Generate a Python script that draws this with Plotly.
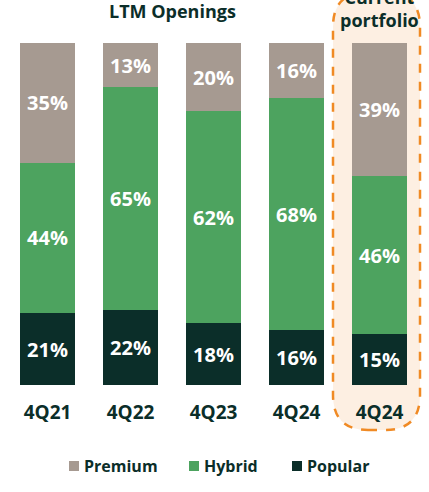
import plotly.graph_objects as go

categories = ["4Q21", "4Q22", "4Q23", "4Q24", "4Q24"]
popular = [21, 22, 18, 16, 15]
hybrid = [44, 65, 62, 68, 46]
premium = [35, 13, 20, 16, 39]

DARK = "#0B2E29"
COLORS = {"Premium": "#A69A91", "Hybrid": "#4DA35F", "Popular": "#0B2E29"}
FONT = "Open Sans"

W, H = 429, 492
L, R, T, B = 6, 8, 43, 107
PW, PH = W - L - R, H - T - B


def px(x, y):
    # page pixels -> paper coords
    return (x - L) / PW, (H - B - y) / PH


xs = list(range(len(categories)))
fig = go.Figure()

for name, vals in [("Popular", popular), ("Hybrid", hybrid), ("Premium", premium)]:
    fig.add_trace(go.Bar(
        x=xs,
        y=vals,
        name=name,
        marker=dict(color=COLORS[name], line=dict(width=0)),
        text=[f"{v}%" for v in vals],
        textposition="inside",
        insidetextanchor="middle",
        textfont=dict(family=FONT, size=20, color="white", weight="bold"),
        hoverinfo="skip",
        showlegend=False,
    ))

# highlight box around the current portfolio bar
x0, y1 = px(333, -8)
x1, y0 = px(420, 430)
rx, ry = 35 / PW, 35 / PH
path = (f"M {x0+rx},{y0} L {x1-rx},{y0} Q {x1},{y0} {x1},{y0+ry} "
        f"L {x1},{y1-ry} Q {x1},{y1} {x1-rx},{y1} L {x0+rx},{y1} "
        f"Q {x0},{y1} {x0},{y1-ry} L {x0},{y0+ry} Q {x0},{y0} {x0+rx},{y0} Z")
fig.add_shape(type="path", path=path, xref="paper", yref="paper",
              fillcolor="#FDEFE2", line=dict(color="#F08A24", width=2.5, dash="dash"),
              layer="below")

fig.add_annotation(x=1.5, xref="x", y=1.0, yref="paper", yanchor="bottom", yshift=18,
                   text="<b>LTM Openings</b>", showarrow=False,
                   font=dict(family=FONT, size=18, color=DARK))
fig.add_annotation(x=4, xref="x", y=1.0, yref="paper", yanchor="bottom", yshift=9,
                   text="<b>Current<br>portfolio</b>", showarrow=False,
                   font=dict(family=FONT, size=18, color=DARK))

# legend drawn by hand so the swatch sits close to its label
legend_x = {"Premium": 69, "Hybrid": 189, "Popular": 292}
for name, lx in legend_x.items():
    sx0, sy1 = px(lx, 461)
    sx1, sy0 = px(lx + 10, 471)
    fig.add_shape(type="rect", xref="paper", yref="paper", x0=sx0, x1=sx1, y0=sy0, y1=sy1,
                  fillcolor=COLORS[name], line=dict(width=0))
    tx, ty = px(lx + 13, 466)
    fig.add_annotation(x=tx, y=ty, xref="paper", yref="paper", xanchor="left", yanchor="middle",
                       text=f"<b>{name}</b>", showarrow=False,
                       font=dict(family=FONT, size=16, color=DARK))

fig.update_layout(
    width=W, height=H,
    barmode="stack",
    bargap=0.337,
    margin=dict(l=L, r=R, t=T, b=B),
    plot_bgcolor="rgba(0,0,0,0)",
    paper_bgcolor="white",
    font=dict(family=FONT, color=DARK),
    xaxis=dict(tickvals=xs, ticktext=[f"<b>{c}</b>" for c in categories],
               range=[-0.5, 4.5], showgrid=False, zeroline=False,
               ticks="outside", ticklen=10, tickcolor="rgba(0,0,0,0)",
               tickfont=dict(family=FONT, size=19, color=DARK)),
    yaxis=dict(range=[0, 100], visible=False),
    showlegend=False,
)

# drop the default 8px page margin so the figure fills the window
fig.write_html("out.html", config={"displayModeBar": False},
               post_script="document.body.style.margin='0';")
